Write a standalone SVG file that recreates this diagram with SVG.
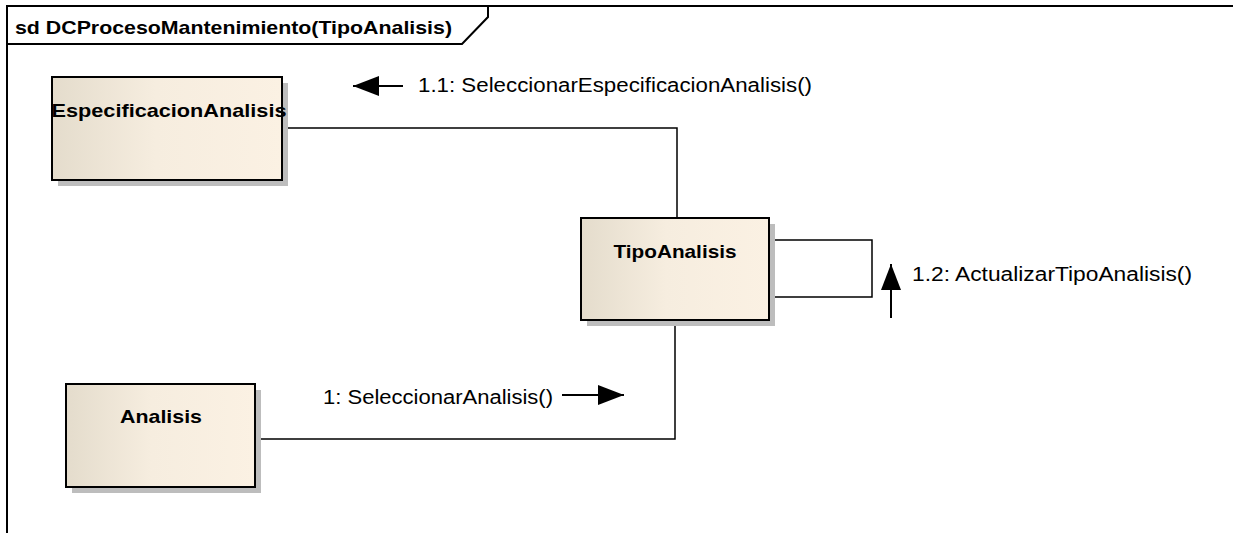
<svg xmlns="http://www.w3.org/2000/svg" width="1233" height="533" viewBox="0 0 1233 533">
  <defs>
    <linearGradient id="objFill" x1="0" y1="0" x2="1" y2="0">
      <stop offset="0" stop-color="#E4DCCC"/>
      <stop offset="0.45" stop-color="#F6EDDF"/>
      <stop offset="1" stop-color="#FBF1E3"/>
    </linearGradient>
    <marker id="msgHead" viewBox="0 0 26 20" refX="26" refY="10" markerWidth="26" markerHeight="20" markerUnits="userSpaceOnUse" orient="auto">
      <path d="M0,0 L26,10 L0,20 Z" fill="#000"/>
    </marker>
  </defs>
  <style>
    .frame { fill: none; stroke: #000; stroke-width: 2; }
    .shadow { fill: #BDBDBD; }
    .obj { fill: url(#objFill); stroke: #000; stroke-width: 2; }
    .name { font-family: "Liberation Sans", Arial, sans-serif; font-weight: bold; font-size: 19px; fill: #000; }
    .title { font-family: "Liberation Sans", Arial, sans-serif; font-weight: bold; font-size: 19px; fill: #000; }
    .msg { font-family: "Liberation Sans", Arial, sans-serif; font-size: 20px; fill: #000; }
    .link { fill: none; stroke: #000; stroke-width: 1.5; }
    .arrow { fill: none; stroke: #000; stroke-width: 2; marker-end: url(#msgHead); }
  </style>

  <rect width="1233" height="533" fill="#FFFFFF"/>

  <!-- interaction frame with name tab -->
  <g id="frame">
    <path class="frame" d="M7,533 L7,6 L1233,6"/>
    <path class="frame" d="M7,44 L462,44 L488,17 L488,6"/>
    <text class="title" x="15" y="34" textLength="437" lengthAdjust="spacingAndGlyphs">sd DCProcesoMantenimiento(TipoAnalisis)</text>
  </g>

  <!-- links between objects -->
  <g id="connectors">
    <polyline class="link" points="282,128 677,128 677,218"/>
    <polyline class="link" points="255,439 675,439 675,320"/>
    <polyline class="link" points="769,240 872,240 872,297 769,297"/>
  </g>

  <!-- objects -->
  <g id="EspecificacionAnalisis">
    <rect class="shadow" x="58" y="83" width="230" height="103"/>
    <rect class="obj" x="52" y="77" width="230" height="103"/>
    <text class="name" x="169" y="117" text-anchor="middle" textLength="235" lengthAdjust="spacingAndGlyphs">EspecificacionAnalisis</text>
  </g>

  <g id="TipoAnalisis">
    <rect class="shadow" x="587" y="224" width="188" height="102"/>
    <rect class="obj" x="581" y="218" width="188" height="102"/>
    <text class="name" x="675" y="258" text-anchor="middle" textLength="123" lengthAdjust="spacingAndGlyphs">TipoAnalisis</text>
  </g>

  <g id="Analisis">
    <rect class="shadow" x="72" y="390" width="189" height="103"/>
    <rect class="obj" x="66" y="384" width="189" height="103"/>
    <text class="name" x="161" y="423" text-anchor="middle" textLength="82" lengthAdjust="spacingAndGlyphs">Analisis</text>
  </g>

  <!-- messages -->
  <g id="msg-1-1">
    <line class="arrow" x1="403" y1="86" x2="353" y2="86"/>
    <text class="msg" x="418" y="92" textLength="394" lengthAdjust="spacingAndGlyphs">1.1: SeleccionarEspecificacionAnalisis()</text>
  </g>
  <g id="msg-1-2">
    <line class="arrow" x1="891" y1="318" x2="891" y2="264"/>
    <text class="msg" x="912" y="281" textLength="280" lengthAdjust="spacingAndGlyphs">1.2: ActualizarTipoAnalisis()</text>
  </g>
  <g id="msg-1">
    <line class="arrow" x1="562" y1="395" x2="624" y2="395"/>
    <text class="msg" x="323" y="404" textLength="230" lengthAdjust="spacingAndGlyphs">1: SeleccionarAnalisis()</text>
  </g>
</svg>
